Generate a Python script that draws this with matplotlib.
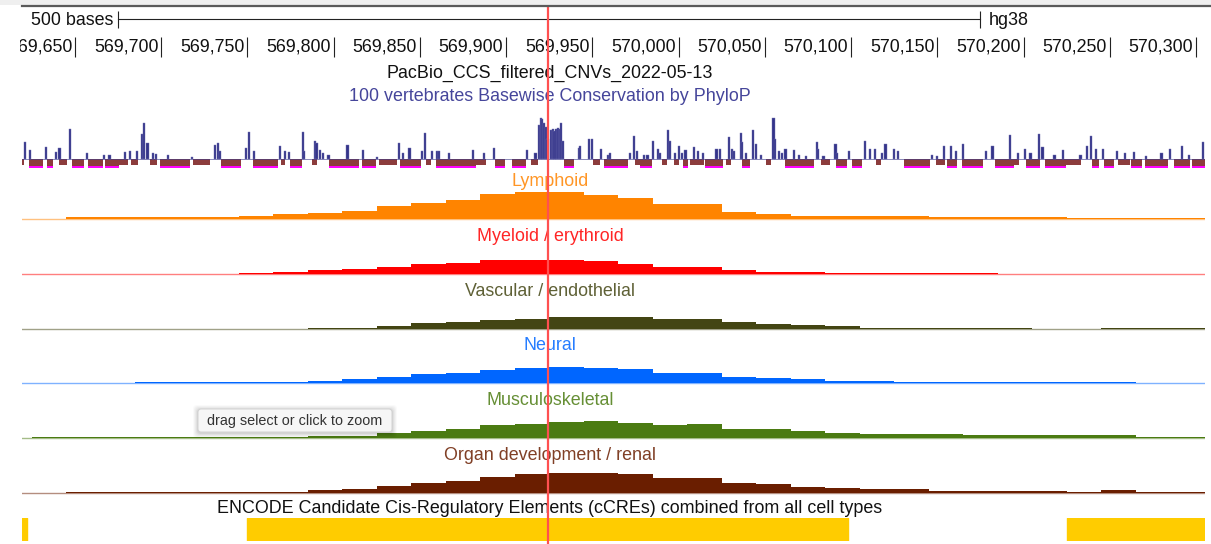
import matplotlib
matplotlib.use("Agg")
import matplotlib.pyplot as plt
from matplotlib.patches import FancyBboxPatch, Rectangle
import numpy as np

plt.rcParams['font.family'] = ['Liberation Sans', 'DejaVu Sans']

# ---- data ----
bin_start = 569605
bin_size = 20

lymphoid = [0, 0, 0.5, 0.5, 0.5, 0.5, 0.5, 0.8, 1.3, 1.7, 2.2, 3.7, 4.7, 5.5, 7.2, 7.6, 7.6, 7.0,
            6.0, 4.4, 4.4, 1.9, 1.5, 0.8, 0.8, 0.8, 0.8, 0.5, 0.5, 0.5, 0.5, 0.2, 0.2, 0.2, 0.2]
myeloid = [0, 0, 0, 0, 0, 0, 0, 0.3, 0.7, 1.1, 1.5, 2.1, 2.9, 3.2, 3.9, 3.9, 3.9, 3.6,
           3.0, 2.1, 2.1, 1.1, 0.7, 0.7, 0.3, 0.3, 0.3, 0.3, 0.3, 0, 0, 0, 0, 0, 0]
vascular = [0, 0, 0, 0, 0, 0, 0, 0, 0, 0.4, 0.4, 0.9, 1.6, 2.0, 2.6, 3.0, 3.4, 3.4,
            3.4, 3.0, 3.0, 1.9, 1.5, 1.1, 0.8, 0.4, 0.4, 0.4, 0.4, 0.4, 0, 0, 0.4, 0.4, 0.4]
neural = [0, 0, 0, 0, 0.3, 0.3, 0.3, 0.3, 0.3, 0.7, 1.1, 1.8, 2.5, 3.0, 3.8, 4.4, 4.6, 4.4,
          4.0, 3.0, 3.0, 1.8, 1.5, 1.1, 0.7, 0.7, 0.3, 0.3, 0.3, 0.3, 0.3, 0.3, 0.3, 0, 0]
musculo = [0, 0.3, 0.3, 0.3, 0.3, 0.3, 0.3, 0.3, 0.3, 0.7, 0.7, 1.4, 2.1, 2.7, 3.6, 4.1, 4.7, 5.0,
           4.4, 3.8, 4.1, 2.7, 2.7, 2.0, 1.5, 1.2, 1.2, 1.2, 0.8, 0.8, 0.8, 0.8, 0.8, 0.4, 0.4]
organ = [0, 0, 0.3, 0.3, 0.3, 0.3, 0.3, 0.3, 0.3, 0.8, 1.2, 1.9, 2.9, 3.4, 4.6, 5.5, 5.8, 5.8,
         5.5, 4.3, 4.3, 2.9, 2.5, 1.8, 1.5, 1.1, 1.1, 0.7, 0.7, 0.7, 0.7, 0.4, 0.8, 0.4, 0.4]

track_names = ["Lymphoid", "Myeloid / erythroid", "Vascular / endothelial", "Neural",
               "Musculoskeletal", "Organ development / renal"]
track_colors = ['#ff8400', '#ff0000', '#434513', '#0066ff', '#4b7b12', '#6a1e00']
track_values = [lymphoid, myeloid, vascular, neural, musculo, organ]

# phyloP: positive spikes
phylop_pos = [569621, 569624, 569633, 569639, 569641, 569647, 569657, 569667, 569670, 569679,
              569682, 569686, 569689, 569690, 569692, 569695, 569697, 569704, 569718, 569731,
              569733, 569734, 569749, 569751, 569754, 569769, 569772, 569774, 569782, 569783,
              569789, 569790, 569792, 569794, 569797, 569808, 569817, 569825, 569838, 569840,
              569844, 569851, 569853, 569857, 569860, 569861, 569867, 569881, 569887, 569893,
              569912, 569917, 569919, 569920, 569921, 569922, 569923, 569924, 569926, 569927,
              569928, 569929, 569930, 569931, 569932, 569933, 569942, 569943, 569948, 569950,
              569955, 569959, 569960, 569972, 569974, 569976, 569980, 569982, 569985, 569988,
              569989, 569994, 569995, 569998, 570000, 570002, 570004, 570009, 570011, 570014,
              570022, 570024, 570029, 570031, 570032, 570036, 570037, 570039, 570043, 570045,
              570048, 570055, 570056, 570058, 570060, 570062, 570067, 570070, 570074, 570080,
              570081, 570084, 570091, 570092, 570099, 570108, 570111, 570114, 570118, 570120,
              570125, 570127, 570147, 570150, 570154, 570158, 570161, 570165, 570178, 570182,
              570192, 570197, 570201, 570204, 570209, 570211, 570218, 570223, 570233, 570237,
              570239, 570242, 570246, 570254, 570259, 570264, 570271, 570280, 570285, 570292,
              570296, 570304]
phylop_val = [3.85, 2.1, 2.7, 1.5, 2.5, 6.7, 1.3, 0.9, 0.9, 1.5,
              1.7, 1.7, 5.5, 7.9, 3.6, 1.3, 1.1, 0.9, 0.5, 3.2,
              3.6, 1.7, 2.5, 6.1, 1.7, 3.0, 1.7, 1.5, 6.1, 1.7,
              4.0, 3.6, 2.1, 1.3, 0.9, 3.2, 2.1, 0.5, 3.6, 1.3,
              2.5, 1.7, 5.8, 1.7, 1.7, 1.7, 1.3, 2.1, 1.3, 2.5,
              2.1, 1.3, 7.5, 9.0, 8.8, 8.0, 7.2, 4.4, 6.5, 6.7,
              6.3, 6.7, 6.8, 6.6, 8.1, 4.0, 2.5, 2.9, 4.4, 4.4,
              2.2, 1.0, 1.3, 1.3, 5.1, 1.8, 1.0, 1.0, 4.0, 2.2,
              1.4, 6.4, 4.0, 1.4, 2.8, 1.4, 2.0, 2.6, 1.8, 1.4,
              2.2, 2.2, 4.9, 2.2, 1.8, 5.8, 3.7, 1.4, 6.4, 3.3,
              1.0, 9.2, 4.4, 1.8, 1.4, 2.2, 2.0, 1.0, 0.6, 3.7,
              2.2, 0.6, 3.4, 1.4, 1.8, 3.9, 2.2, 2.3, 1.4, 3.4,
              2.2, 1.8, 1.0, 0.6, 2.9, 3.0, 1.8, 3.3, 1.8, 2.9,
              5.4, 1.4, 2.2, 1.4, 5.6, 2.6, 1.0, 2.0, 1.0, 2.8,
              5.1, 2.2, 2.2, 1.8, 1.4, 1.6, 0.6, 1.4, 2.2, 3.0,
              1.0, 3.7]

# phyloP: negative runs (start, end, value)
neg_start = [569619, 569624, 569634, 569641, 569649, 569658, 569668, 569676, 569683, 569694,
             569700, 569719, 569735, 569754, 569770, 569775, 569788, 569798, 569817, 569827,
             569839, 569854, 569860, 569869, 569883, 569894, 569904, 569915, 569934, 569951,
             569957, 569975, 569978, 569991, 569998, 570003, 570007, 570016, 570028, 570037,
             570051, 570062, 570083, 570092, 570101, 570115, 570131, 570150, 570156, 570165,
             570184, 570195, 570202, 570213, 570225, 570240, 570247, 570255, 570263, 570271,
             570288, 570298]
neg_end = [569620, 569631, 569637, 569645, 569655, 569666, 569675, 569680, 569686, 569697,
           569716, 569728, 569746, 569767, 569771, 569781, 569790, 569814, 569824, 569836,
           569850, 569856, 569868, 569882, 569888, 569899, 569911, 569918, 569939, 569954,
           569970, 569977, 569984, 569993, 570000, 570005, 570014, 570025, 570030, 570041,
           570053, 570078, 570087, 570097, 570106, 570117, 570145, 570154, 570161, 570176,
           570194, 570197, 570209, 570224, 570233, 570243, 570252, 570261, 570268, 570283,
           570296, 570305]
neg_val = [-1.3, -3.0, -3.0, -1.3, -3.0, -3.0, -3.0, -1.3, -1.3, -1.3,
           -3.0, -1.3, -3.0, -3.0, -1.3, -3.0, -1.3, -3.0, -3.0, -1.3,
           -3.0, -1.3, -3.0, -3.0, -1.3, -3.0, -3.0, -1.3, -3.0, -1.3,
           -3.0, -1.3, -3.0, -1.3, -1.3, -3.0, -1.3, -3.0, -1.3, -3.0,
           -1.3, -3.0, -1.3, -3.0, -3.0, -1.3, -3.0, -1.3, -3.0, -3.0,
           -3.0, -1.3, -3.0, -3.0, -1.3, -3.0, -3.0, -1.3, -3.0, -3.0,
           -3.0, -3.0]

# ENCODE cCREs
ccre_start = [569600, 569750, 570225]
ccre_end = [569622, 570098, 570450]

ruler_ticks = list(range(569650, 570301, 50))
highlight_pos = 569924

# ---- layout ----
W, H = 1211, 544
fig = plt.figure(figsize=(W / 100, H / 100), dpi=100)


def px_to_pos(x):
    return 569650 + (x - 75) / 1.7246


view_lo, view_hi = px_to_pos(22), px_to_pos(1205)


def track_axes(top, bottom):
    ax = fig.add_axes([22 / W, 1 - bottom / H, (1205 - 22) / W, (bottom - top) / H])
    ax.set_xlim(view_lo, view_hi)
    ax.axis('off')
    return ax


# phyloP track (4.5 px per unit, zero at y=159)
axp = track_axes(112, 172)
axp.set_ylim(-(172 - 159) / 4.5, (159 - 112) / 4.5)
clip_lo = -2.0
for s, e, v in zip(neg_start, neg_end, neg_val):
    axp.bar(s - 0.5, max(v, clip_lo), width=e - s + 1, align='edge', color='#8c3c3c', lw=0)
    if v < clip_lo:
        axp.bar(s - 0.5, -0.45, bottom=clip_lo + 0.45, width=e - s + 1, align='edge',
                color='#ff00ff', lw=0)
axp.plot([view_lo, view_hi], [0, 0], color='#3c3c8c', lw=0.6, alpha=0.7)
axp.bar(phylop_pos, phylop_val, width=1.25, color='#34348a', ec='#6f6fb0', lw=0.3)

# signal tracks
baselines = [219, 274, 329, 383, 438, 493]
edges = bin_start + bin_size * np.arange(len(lymphoid) + 1)
for vals, col, b in zip(track_values, track_colors, baselines):
    ax = track_axes(b - 32, b + 1.5)
    ax.set_ylim(-1.5 / 3.5, 32 / 3.5)
    ax.plot([view_lo, view_hi], [0, 0], color=col, lw=1.0, alpha=0.5)
    ax.stairs(vals, edges, baseline=0, fill=True, color=col, lw=0)

# cCRE track
axc = track_axes(518, 541)
axc.set_ylim(0, 1)
axc.broken_barh([(s, e - s) for s, e in zip(ccre_start, ccre_end)], (0, 1), color='#ffcc00')

# ruler, labels, highlight
ax0 = fig.add_axes([20 / W, 0, (W - 20) / W, 1])
ax0.set_xlim(px_to_pos(20), px_to_pos(W))
ax0.set_ylim(H, 0)
ax0.axis('off')

fs = 12.9
ax0.text(px_to_pos(113), 25, "500 bases", ha='right', va='baseline', fontsize=fs, color='#111111')
ax0.plot([px_to_pos(118), px_to_pos(980)], [19, 19], color='#222222', lw=0.8)
ax0.vlines([px_to_pos(118), px_to_pos(980)], 11, 28, color='#222222', lw=0.8)
ax0.text(px_to_pos(989), 25, "hg38", ha='left', va='baseline', fontsize=fs, color='#111111')

ax0.vlines(ruler_ticks, 37, 57, color='#222222', lw=0.8)
for t in ruler_ticks:
    ax0.text(t - 1.6, 52, f"{t:,}", ha='right', va='baseline', fontsize=fs, color='#111111',
             clip_on=True)

center = px_to_pos(550)
ax0.text(center, 78, "PacBio_CCS_filtered_CNVs_2022-05-13", ha='center', va='baseline',
         fontsize=fs, color='#111111')
ax0.text(center, 101, "100 vertebrates Basewise Conservation by PhyloP", ha='center',
         va='baseline', fontsize=fs, color='#46469b')
for name, col, b in zip(track_names, track_colors, baselines):
    ax0.text(center, b - 33, name, ha='center', va='baseline', fontsize=fs, color=col, alpha=0.85)
ax0.text(center, 513, "ENCODE Candidate Cis-Regulatory Elements (cCREs) combined from all cell types",
         ha='center', va='baseline', fontsize=fs, color='#111111')

ax0.vlines([highlight_pos], 6, H, color='#ff5050', lw=1.6, zorder=5)

# top frame and tooltip (pixel coordinates)
axt = fig.add_axes([0, 0, 1, 1])
axt.set_xlim(0, W)
axt.set_ylim(H, 0)
axt.axis('off')
axt.add_patch(Rectangle((0, 0), W, 5, fc='#efefef', ec='none'))
axt.plot([22, W], [6, 6], color='#5a5a5a', lw=1.6)
for grow, a in [(5, 0.02), (4, 0.03), (3, 0.03), (2, 0.04), (1, 0.05)]:
    axt.add_patch(FancyBboxPatch((198 - grow, 410 - grow), 194 + 2 * grow, 23 + 2 * grow,
                                 boxstyle="round,pad=0,rounding_size=4", fc='black', ec='none', alpha=a))
axt.add_patch(FancyBboxPatch((198, 409), 194, 23, boxstyle="round,pad=0,rounding_size=3",
                             fc='#f6f6f6', ec='#d2d2d2', lw=0.7))
axt.text(295, 425, "drag select or click to zoom", ha='center', va='baseline', fontsize=10.4,
         color='#333333')

fig.savefig("out.png", dpi=100)
